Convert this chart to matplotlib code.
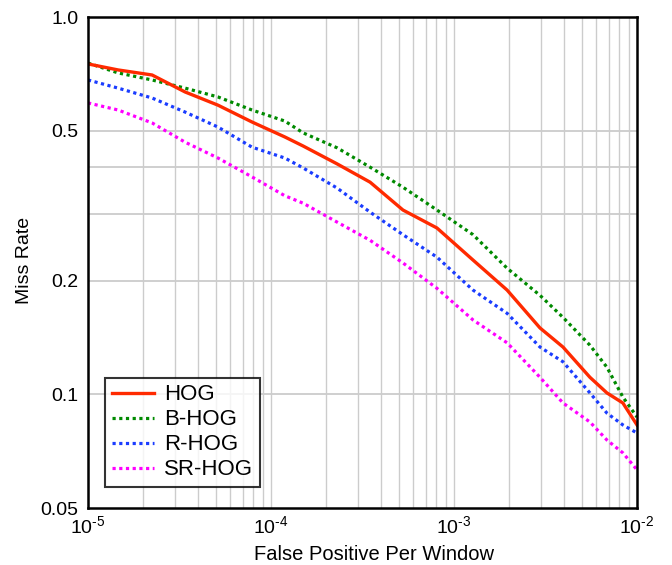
import numpy as np
import matplotlib
matplotlib.use("Agg")
import matplotlib.pyplot as plt
from matplotlib.ticker import FixedLocator, NullLocator, FixedFormatter

plt.rcParams['font.family'] = ['Liberation Sans', 'DejaVu Sans']
plt.rcParams['mathtext.fontset'] = 'custom'
plt.rcParams['mathtext.rm'] = 'Liberation Sans'
plt.rcParams['mathtext.it'] = 'Liberation Sans'
plt.rcParams['mathtext.bf'] = 'Liberation Sans'

# ---- data ----
fppw = [1e-5, 1.46e-5, 2.24e-5, 3.39e-5, 5.13e-5, 7.87e-5, 1.19e-4, 1.5e-4,
        2.3e-4, 3.48e-4, 5.26e-4, 8.07e-4, 1.27e-3, 1.95e-3, 2.95e-3, 3.94e-3,
        5.53e-3, 6.85e-3, 8.37e-3, 1e-2]

hog   = [0.751, 0.724, 0.702, 0.633, 0.584, 0.527, 0.481, 0.455, 0.408, 0.365,
         0.308, 0.276, 0.227, 0.189, 0.150, 0.1335, 0.111, 0.1009, 0.0949, 0.0830]
b_hog = [0.755, 0.711, 0.681, 0.648, 0.614, 0.567, 0.530, 0.493, 0.450, 0.400,
         0.354, 0.308, 0.265, 0.216, 0.183, 0.160, 0.135, 0.118, 0.0984, 0.0871]
r_hog = [0.681, 0.648, 0.610, 0.560, 0.511, 0.452, 0.423, 0.398, 0.352, 0.304,
         0.265, 0.231, 0.189, 0.164, 0.1335, 0.122, 0.1009, 0.0892, 0.0830, 0.0790]
sr_hog = [0.592, 0.567, 0.524, 0.466, 0.423, 0.377, 0.336, 0.321, 0.286, 0.256,
          0.223, 0.191, 0.1575, 0.137, 0.111, 0.0949, 0.0845, 0.0757, 0.0700, 0.0631]

labels = ["HOG", "B-HOG", "R-HOG", "SR-HOG"]
y_ticks = [0.05, 0.1, 0.2, 0.5, 1.0]
y_tick_labels = ["0.05", "0.1", "0.2", "0.5", "1.0"]
y_grid = [0.1, 0.2, 0.3, 0.4, 0.5]
x_ticks = [1e-5, 1e-4, 1e-3, 1e-2]
x_tick_labels = [r"$\mathregular{10^{\text{-}5}}$", r"$\mathregular{10^{\text{-}4}}$",
                 r"$\mathregular{10^{\text{-}3}}$", r"$\mathregular{10^{\text{-}2}}$"]

fig = plt.figure(figsize=(6.72, 5.65), dpi=100)
ax = fig.add_axes([88/672, 1-508/565, (637-88)/672, (508-17)/565])
ax.set_xscale('log')
ax.set_yscale('log')
ax.set_xlim(1e-5, 1e-2)
ax.set_ylim(0.05, 1.0)

# grid
gridc = '#cccccc'
for dec in [1e-5, 1e-4, 1e-3]:
    for m in range(1, 10):
        v = dec * m
        if v > 1e-5:
            ax.axvline(v, color=gridc, lw=1.0, zorder=0)
for v in y_grid:
    ax.axhline(v, color=gridc, lw=1.3, zorder=0)

ax.plot(fppw, hog, color='#ff2a00', lw=2.4, ls='-', label=labels[0], zorder=5)
ax.plot(fppw, b_hog, color='#008a00', lw=2.3, ls=(0, (1, 1.1)), label=labels[1], zorder=4)
ax.plot(fppw, r_hog, color='#1a3cff', lw=2.3, ls=(0, (1, 1.1)), label=labels[2], zorder=4)
ax.plot(fppw, sr_hog, color='#ff00ff', lw=2.3, ls=(0, (1, 1.1)), label=labels[3], zorder=4)

ax.xaxis.set_major_locator(FixedLocator(x_ticks))
ax.xaxis.set_major_formatter(FixedFormatter(x_tick_labels))
ax.xaxis.set_minor_locator(NullLocator())
ax.yaxis.set_major_locator(FixedLocator(y_ticks))
ax.yaxis.set_major_formatter(FixedFormatter(y_tick_labels))
ax.yaxis.set_minor_locator(NullLocator())
ax.tick_params(axis='both', length=0, labelsize=14, colors='black')
ax.tick_params(axis='x', pad=5)
ax.tick_params(axis='y', pad=7)

for s in ax.spines.values():
    s.set_linewidth(1.8)
    s.set_color('black')
    s.set_zorder(10)

ax.set_xlabel("False Positive Per Window", fontsize=14.5)
ax.xaxis.label.set_va('baseline')
ax.xaxis.set_label_coords((373.5-88)/549, (508-560)/491)
ax.set_ylabel("Miss Rate", fontsize=14)
ax.yaxis.label.set_va('center')
ax.yaxis.label.set_ha('center')
ax.yaxis.set_label_coords((25-88)/549, (508-260)/491)

leg = ax.legend(loc='lower left', bbox_to_anchor=((105-88)/549, (508-487)/491),
                borderaxespad=0, fontsize=16, frameon=True, fancybox=False,
                edgecolor='black', handlelength=1.9, labelspacing=0.18,
                handletextpad=0.45, borderpad=0.3)
leg.get_frame().set_linewidth(1.5)
leg.set_zorder(20)

fig.savefig("out.png", dpi=100)
